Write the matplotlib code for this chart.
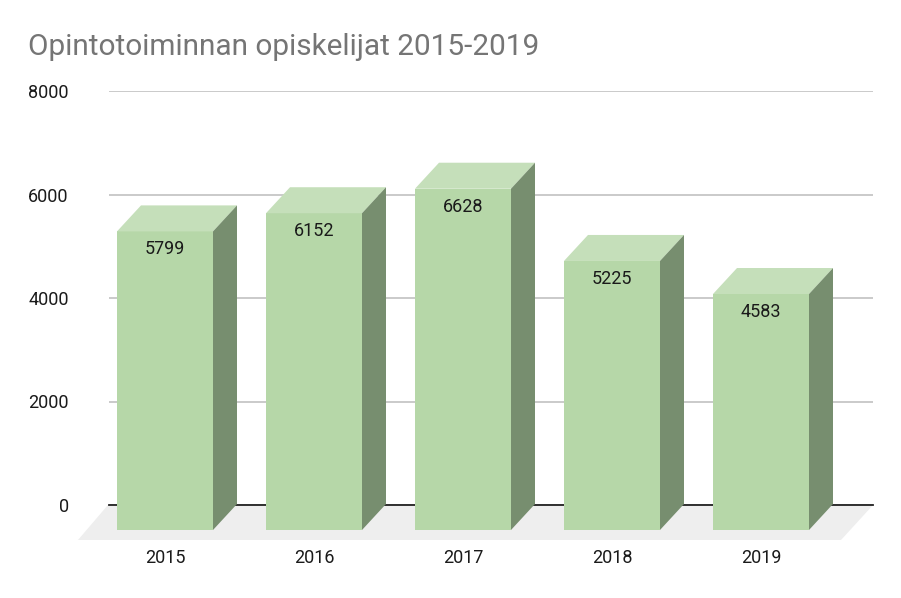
import numpy as np
import matplotlib.pyplot as plt
from matplotlib.patches import Polygon

plt.rcParams['font.family'] = ['Roboto', 'DejaVu Sans']

years = ['2015', '2016', '2017', '2018', '2019']
opiskelijat = [5799, 6152, 6628, 5225, 4583]
yticks = [0, 2000, 4000, 6000, 8000]

W, H = 901, 598
fig = plt.figure(figsize=(W/100, H/100), dpi=100)

# axes box in pixels: x 109-873, y 91-505
ax = fig.add_axes([109/W, 1-505/H, (873-109)/W, (505-91)/H])
step = 149.0
ax.set_xlim((109-165)/step, (873-165)/step)
ax.set_ylim(0, 8000)
yscale = 8000/414.0   # units per pixel

bw = 96/step
dx = 24/step
dy = 26*yscale
drop = 25*yscale
hk = 0.995   # front face is a bit shorter than the grid scale

ax.grid(axis='y', color='#c6c6c6', linewidth=1.3, zorder=1)
ax.set_axisbelow(True)
for s in ax.spines.values():
	s.set_visible(False)
ax.axhline(0, color='#222222', linewidth=1.3, zorder=3, clip_on=False)

# floor
fy = -35*yscale
ax.add_patch(Polygon([(-0.383, 0), (4.752, 0), (4.537, fy), (-0.584, fy)], closed=True,
	facecolor='#eeeeee', edgecolor='none', zorder=2, clip_on=False))

for i in range(0, len(years)):
	v = opiskelijat[i]
	l = i-bw/2
	r = i+bw/2
	b = -drop
	t = v*hk-drop
	# front, top, side
	ax.add_patch(Polygon([(l, b), (r, b), (r, t), (l, t)], closed=True, facecolor='#b6d7a8',
		edgecolor='none', zorder=4, clip_on=False))
	ax.add_patch(Polygon([(l, t), (r, t), (r+dx, t+dy), (l+dx, t+dy)], closed=True, facecolor='#c5dfba',
		edgecolor='none', zorder=4, clip_on=False))
	ax.add_patch(Polygon([(r, b), (r+dx, b+dy), (r+dx, t+dy), (r, t)], closed=True, facecolor='#778e6f',
		edgecolor='none', zorder=4, clip_on=False))
	ax.text(i, t-18*yscale, str(v), ha='center', va='center', fontsize=13, color='#1a1a1a', zorder=5)

ax.set_yticks(yticks)
ax.set_yticklabels([str(y) for y in yticks], fontsize=13, color='#1a1a1a')
ax.tick_params(axis='y', length=0, pad=29)
ax.set_xticks(np.arange(len(years)))
ax.set_xticklabels(years, fontsize=13, color='#1a1a1a')
ax.tick_params(axis='x', length=0, pad=32)

fig.text(28/W, 1-47/H, 'Opintotoiminnan opiskelijat 2015-2019', fontsize=21.4, color='#757575', ha='left', va='center')

fig.savefig('out.png', dpi=100)
